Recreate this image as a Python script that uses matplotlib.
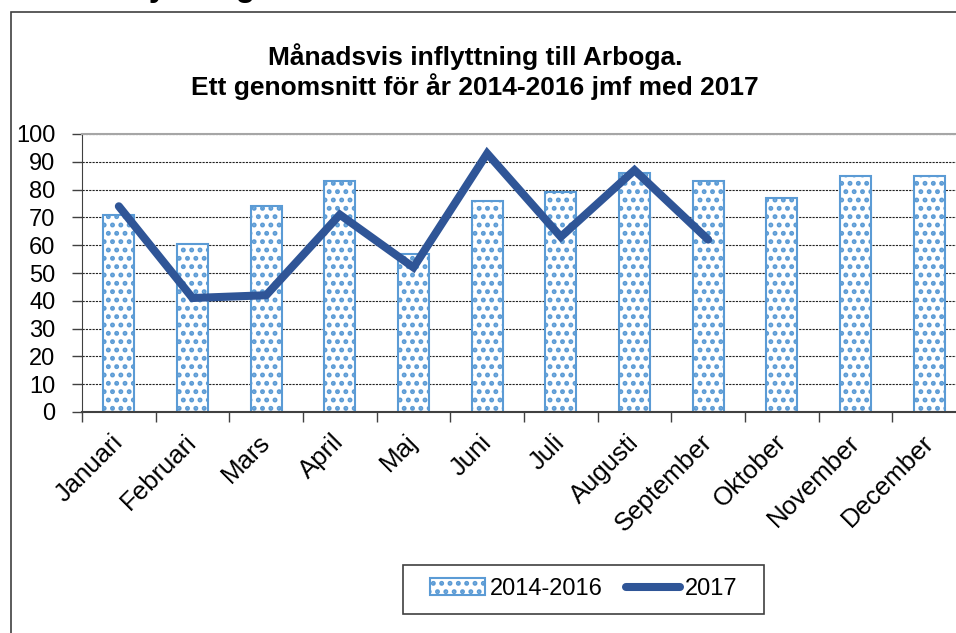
import matplotlib.pyplot as plt
import matplotlib.transforms as mtransforms
import numpy as np
from matplotlib.patches import Rectangle

plt.rcParams['font.family'] = ['Liberation Sans', 'DejaVu Sans']
plt.rcParams['hatch.linewidth'] = 2.3

months = ["Januari", "Februari", "Mars", "April", "Maj", "Juni",
          "Juli", "Augusti", "September", "Oktober", "November", "December"]
avg_2014_2016 = [71, 60.5, 74, 83, 57, 76, 79, 86, 83, 77, 85, 85]
year_2017 = [74, 41, 42, 71, 52, 93, 63, 87, 62]

bar_blue = "#5B9BD5"
line_blue = "#2F5597"

W, H = 956, 633
fig = plt.figure(figsize=(W / 100, H / 100), dpi=100)
ax = fig.add_axes([82 / W, 1 - 412 / H, (966 - 82) / W, (412 - 134) / H])

x = np.arange(len(months))
bars = ax.bar(x, avg_2014_2016, width=0.42, color="white", edgecolor=bar_blue,
              linewidth=1.5, hatch="..", label="2014-2016", zorder=2)
line, = ax.plot(x[:len(year_2017)], year_2017, color=line_blue, lw=5.8,
                solid_capstyle="round", solid_joinstyle="miter", label="2017", zorder=3)

ax.set_xlim(-0.5, len(months) - 0.5)
ax.set_ylim(0, 100)
ax.set_yticks(np.arange(0, 101, 10))
ax.yaxis.grid(True, linestyle=(0, (2, 1)), color="#222222", lw=0.8, zorder=0)
ax.set_axisbelow(True)

ax.set_xticks(x)
ax.set_xticklabels(months, rotation=45, ha="right", va="top", rotation_mode="anchor")
ax.set_xticks(np.arange(-0.5, len(months), 1), minor=True)
ax.tick_params(axis="x", which="major", length=0, pad=13, labelsize=18.5)
ax.tick_params(axis="x", which="minor", length=7, width=1, color="#404040", direction="out")
ax.tick_params(axis="y", length=7, width=1, labelsize=17, pad=12, color="#404040")

# nudge month labels a little to the left
shift = mtransforms.ScaledTranslation(-0.08, 0, fig.dpi_scale_trans)
for lab in ax.get_xticklabels():
    lab.set_transform(lab.get_transform() + shift)

ax.spines["right"].set_visible(False)
ax.spines["top"].set_color("#a6a6a6")
ax.spines["top"].set_linewidth(1.5)
ax.spines["left"].set_color("#404040")
ax.spines["bottom"].set_color("#404040")
ax.spines["bottom"].set_linewidth(1.5)

# outer chart frame
fig.patches.append(Rectangle((11 / W, -0.1), 1.2, 1.1 - 12 / H, transform=fig.transFigure,
                             fill=False, edgecolor="#404040", lw=1.2))
# cut-off heading above the chart (only descenders visible)
fig.text(102 / W, 1 + 4 / H, "Inflyttning", fontsize=23, fontweight="bold", va="baseline")

fig.text(475 / W, 1 - 95 / H, "Månadsvis inflyttning till Arboga.\nEtt genomsnitt för år 2014-2016 jmf med 2017",
         ha="center", va="baseline", fontsize=19, fontweight="bold", linespacing=1.15)

# legend box
fig.patches.append(Rectangle((403 / W, 1 - 614 / H), 361 / W, 49 / H, transform=fig.transFigure,
                             fill=False, edgecolor="#404040", lw=1.2))
fig.legend(handles=[bars, line], loc="center", bbox_to_anchor=(584 / W, 1 - 589 / H),
           ncol=2, frameon=False, fontsize=17, handlelength=2.3, handletextpad=0.2,
           columnspacing=1.0)

fig.savefig("out.png", dpi=100)
